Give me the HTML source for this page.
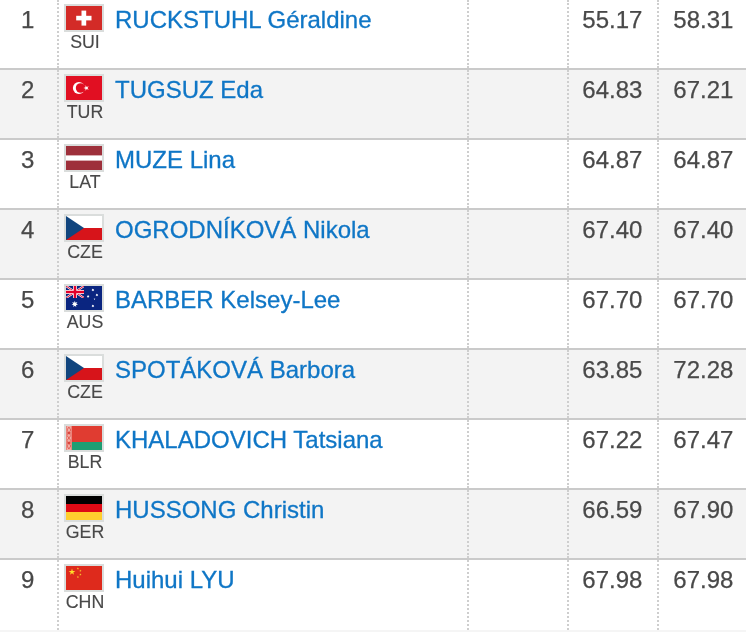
<!DOCTYPE html>
<html><head><meta charset="utf-8"><title>Results</title>
<style>
html,body{margin:0;padding:0;background:#fff;}
body{width:746px;height:632px;overflow:hidden;position:relative;font-family:"Liberation Sans",Arial,Helvetica,sans-serif;color:#494949;-webkit-text-stroke:0.25px #494949;}
.row{position:absolute;left:0;width:746px;height:68px;border-bottom:2px solid #cacaca;background:#fff;}
.row.alt{background:#f3f3f3;}
.row.last{height:70px;border-bottom:0;}
.vl{position:absolute;top:0;width:2px;height:68px;background:linear-gradient(#cecece,#cecece) 0 0/2px 2px no-repeat,linear-gradient(#cecece,#cecece) 0 66px/2px 2px no-repeat,repeating-linear-gradient(to bottom,#cecece 0,#cecece 2px,transparent 2px,transparent 4px) 0 3px/2px 62px no-repeat;}
.last .vl{height:70px;background:repeating-linear-gradient(to bottom,#cecece 0,#cecece 2px,transparent 2px,transparent 4px);}
.v1{left:57px}.v2{left:467px}.v3{left:567px}.v4{left:657px}
.rk{position:absolute;left:0;width:57px;text-align:center;font-size:24px;line-height:28px;top:5px;transform:translate(-0.8px,1.2px);}
.flag{position:absolute;left:64px;top:4px;width:36px;height:24px;border:2px solid #dadddc;overflow:hidden;background:#eee;}
.flag svg{display:block;width:36px;height:24px;}
.cc{position:absolute;left:60px;width:50px;text-align:center;top:32.6px;font-size:17.8px;line-height:18px;-webkit-text-stroke:0.12px #484848;}
.nm{position:absolute;left:115px;top:5px;transform:translate(0px,1px);font-size:24px;line-height:28px;color:#0f76c6;-webkit-text-stroke:0.3px #0f76c6;white-space:nowrap;}
.n1{position:absolute;right:104px;top:5px;transform:translate(0.4px,1.15px);font-size:24px;line-height:28px;}
.n2{position:absolute;right:13px;top:5px;transform:translate(0.4px,1.15px);font-size:24px;line-height:28px;}
.foot{position:absolute;left:0;top:630px;width:746px;height:2px;background:#f5f5f5;}
</style></head><body>
<svg width="0" height="0" style="position:absolute"><defs><filter id="bl" x="-20%" y="-20%" width="140%" height="140%"><feGaussianBlur stdDeviation="0.35"/></filter></defs></svg>
<div class="row" style="top:0px"><div class="rk">1</div><div class="flag"><svg viewBox="0 0 36 24"><rect width="36" height="24" fill="#d32b27"/><g filter="url(#bl)"><rect x="15.5" y="4.6" width="4.7" height="15" fill="#fff"/><rect x="10.2" y="9.8" width="15.3" height="4.6" fill="#fff"/></g></svg></div><div class="cc">SUI</div><div class="nm">RUCKSTUHL Géraldine</div><div class="n1">55.17</div><div class="n2">58.31</div><i class="vl v1"></i><i class="vl v2"></i><i class="vl v3"></i><i class="vl v4"></i></div>
<div class="row alt" style="top:70px"><div class="rk">2</div><div class="flag"><svg viewBox="0 0 36 24"><rect width="36" height="24" fill="#e10f22"/><g filter="url(#bl)"><circle cx="12.9" cy="12" r="6" fill="#fff"/><circle cx="14.6" cy="12" r="4.8" fill="#e10f22"/><polygon points="17.50,12.00 19.50,11.35 19.50,9.24 20.74,10.95 22.75,10.30 21.51,12.00 22.75,13.70 20.74,13.05 19.50,14.76 19.50,12.65" fill="#fff"/></g></svg></div><div class="cc">TUR</div><div class="nm">TUGSUZ Eda</div><div class="n1">64.83</div><div class="n2">67.21</div><i class="vl v1"></i><i class="vl v2"></i><i class="vl v3"></i><i class="vl v4"></i></div>
<div class="row" style="top:140px"><div class="rk">3</div><div class="flag"><svg viewBox="0 0 36 24"><rect width="36" height="24" fill="#9e303b"/><rect y="9.4" width="36" height="5.2" fill="#fff"/></svg></div><div class="cc">LAT</div><div class="nm">MUZE Lina</div><div class="n1">64.87</div><div class="n2">64.87</div><i class="vl v1"></i><i class="vl v2"></i><i class="vl v3"></i><i class="vl v4"></i></div>
<div class="row alt" style="top:210px"><div class="rk">4</div><div class="flag"><svg viewBox="0 0 36 24"><rect width="36" height="12" fill="#fff"/><rect y="12" width="36" height="12" fill="#d7141a"/><polygon points="0,0 18,12 0,24" fill="#11457e"/></svg></div><div class="cc">CZE</div><div class="nm">OGRODNÍKOVÁ Nikola</div><div class="n1">67.40</div><div class="n2">67.40</div><i class="vl v1"></i><i class="vl v2"></i><i class="vl v3"></i><i class="vl v4"></i></div>
<div class="row" style="top:280px"><div class="rk">5</div><div class="flag"><svg viewBox="0 0 36 24"><rect width="36" height="24" fill="#0a2580"/><g filter="url(#bl)"><clipPath id="uj4"><rect width="18" height="12"/></clipPath><g clip-path="url(#uj4)"><path d="M0,0 L18,12 M18,0 L0,12" stroke="#fff" stroke-width="2.1"/><path d="M0,0 L18,12 M18,0 L0,12" stroke="#e4002b" stroke-width="1"/><path d="M9,0 V12 M0,6 H18" stroke="#fff" stroke-width="3.9"/><path d="M9,0 V12 M0,6 H18" stroke="#e4002b" stroke-width="2.5"/></g></g><g filter="url(#bl)"><polygon points="8.80,14.80 9.49,16.66 11.38,16.04 10.36,17.74 12.02,18.83 10.05,19.10 10.23,21.07 8.80,19.70 7.37,21.07 7.55,19.10 5.58,18.83 7.24,17.74 6.22,16.04 8.11,16.66" fill="#fff"/><polygon points="26.90,2.50 27.23,3.21 27.99,3.03 27.65,3.73 28.26,4.21 27.50,4.38 27.51,5.16 26.90,4.67 26.29,5.16 26.30,4.38 25.54,4.21 26.15,3.73 25.81,3.03 26.57,3.21" fill="#fff"/><polygon points="30.90,7.60 31.23,8.31 31.99,8.13 31.65,8.83 32.26,9.31 31.50,9.48 31.51,10.26 30.90,9.77 30.29,10.26 30.30,9.48 29.54,9.31 30.15,8.83 29.81,8.13 30.57,8.31" fill="#fff"/><polygon points="22.10,9.10 22.43,9.81 23.19,9.63 22.85,10.33 23.46,10.81 22.70,10.98 22.71,11.76 22.10,11.27 21.49,11.76 21.50,10.98 20.74,10.81 21.35,10.33 21.01,9.63 21.77,9.81" fill="#fff"/><polygon points="26.90,18.50 27.23,19.21 27.99,19.03 27.65,19.73 28.26,20.21 27.50,20.38 27.51,21.16 26.90,20.67 26.29,21.16 26.30,20.38 25.54,20.21 26.15,19.73 25.81,19.03 26.57,19.21" fill="#fff"/><polygon points="28.50,12.20 28.76,12.74 29.36,12.82 28.93,13.24 29.03,13.83 28.50,13.55 27.97,13.83 28.07,13.24 27.64,12.82 28.24,12.74" fill="#fff"/></g></svg></div><div class="cc">AUS</div><div class="nm">BARBER Kelsey-Lee</div><div class="n1">67.70</div><div class="n2">67.70</div><i class="vl v1"></i><i class="vl v2"></i><i class="vl v3"></i><i class="vl v4"></i></div>
<div class="row alt" style="top:350px"><div class="rk">6</div><div class="flag"><svg viewBox="0 0 36 24"><rect width="36" height="12" fill="#fff"/><rect y="12" width="36" height="12" fill="#d7141a"/><polygon points="0,0 18,12 0,24" fill="#11457e"/></svg></div><div class="cc">CZE</div><div class="nm">SPOTÁKOVÁ Barbora</div><div class="n1">63.85</div><div class="n2">72.28</div><i class="vl v1"></i><i class="vl v2"></i><i class="vl v3"></i><i class="vl v4"></i></div>
<div class="row" style="top:420px"><div class="rk">7</div><div class="flag"><svg viewBox="0 0 36 24"><rect width="36" height="16" fill="#e03c31"/><rect y="16" width="36" height="8" fill="#1e9e73"/><rect width="5.8" height="24" fill="#f2aea6"/><g filter="url(#bl)"><path d="M2.9,1 l1.9,3 l-1.9,3 l-1.9,-3z M2.9,7 l1.9,2.5 l-1.9,2.5 l-1.9,-2.5z M2.9,12 l1.9,2.5 l-1.9,2.5 l-1.9,-2.5z M2.9,17 l1.9,3 l-1.9,3 l-1.9,-3z" fill="none" stroke="#e25a50" stroke-width="0.9"/><rect x="0" y="0" width="0.9" height="24" fill="#ea8078"/><rect x="4.9" y="0" width="0.9" height="24" fill="#ea8078"/><rect x="1.3" y="6.1" width="3.2" height="1.7" fill="#d8433a"/><rect x="1.3" y="16.1" width="3.2" height="1.7" fill="#d8433a"/></g></svg></div><div class="cc">BLR</div><div class="nm">KHALADOVICH Tatsiana</div><div class="n1">67.22</div><div class="n2">67.47</div><i class="vl v1"></i><i class="vl v2"></i><i class="vl v3"></i><i class="vl v4"></i></div>
<div class="row alt" style="top:490px"><div class="rk">8</div><div class="flag"><svg viewBox="0 0 36 24"><rect width="36" height="8" fill="#000"/><rect y="8" width="36" height="8" fill="#de0a15"/><rect y="16" width="36" height="8" fill="#ffce2e"/></svg></div><div class="cc">GER</div><div class="nm">HUSSONG Christin</div><div class="n1">66.59</div><div class="n2">67.90</div><i class="vl v1"></i><i class="vl v2"></i><i class="vl v3"></i><i class="vl v4"></i></div>
<div class="row last" style="top:560px"><div class="rk">9</div><div class="flag"><svg viewBox="0 0 36 24"><rect width="36" height="24" fill="#de2a1c"/><g filter="url(#bl)"><polygon points="6.00,2.50 6.79,4.92 9.33,4.92 7.27,6.41 8.06,8.83 6.00,7.34 3.94,8.83 4.73,6.41 2.67,4.92 5.21,4.92" fill="#ffde2a"/><polygon points="11.90,1.30 12.17,2.13 13.04,2.13 12.34,2.64 12.61,3.47 11.90,2.96 11.19,3.47 11.46,2.64 10.76,2.13 11.63,2.13" fill="#ffde2a"/><polygon points="14.40,3.60 14.67,4.43 15.54,4.43 14.84,4.94 15.11,5.77 14.40,5.26 13.69,5.77 13.96,4.94 13.26,4.43 14.13,4.43" fill="#ffde2a"/><polygon points="14.40,7.30 14.67,8.13 15.54,8.13 14.84,8.64 15.11,9.47 14.40,8.96 13.69,9.47 13.96,8.64 13.26,8.13 14.13,8.13" fill="#ffde2a"/><polygon points="11.90,9.80 12.17,10.63 13.04,10.63 12.34,11.14 12.61,11.97 11.90,11.46 11.19,11.97 11.46,11.14 10.76,10.63 11.63,10.63" fill="#ffde2a"/></g></svg></div><div class="cc">CHN</div><div class="nm">Huihui LYU</div><div class="n1">67.98</div><div class="n2">67.98</div><i class="vl v1"></i><i class="vl v2"></i><i class="vl v3"></i><i class="vl v4"></i></div>
<div class="foot"></div>
</body></html>
